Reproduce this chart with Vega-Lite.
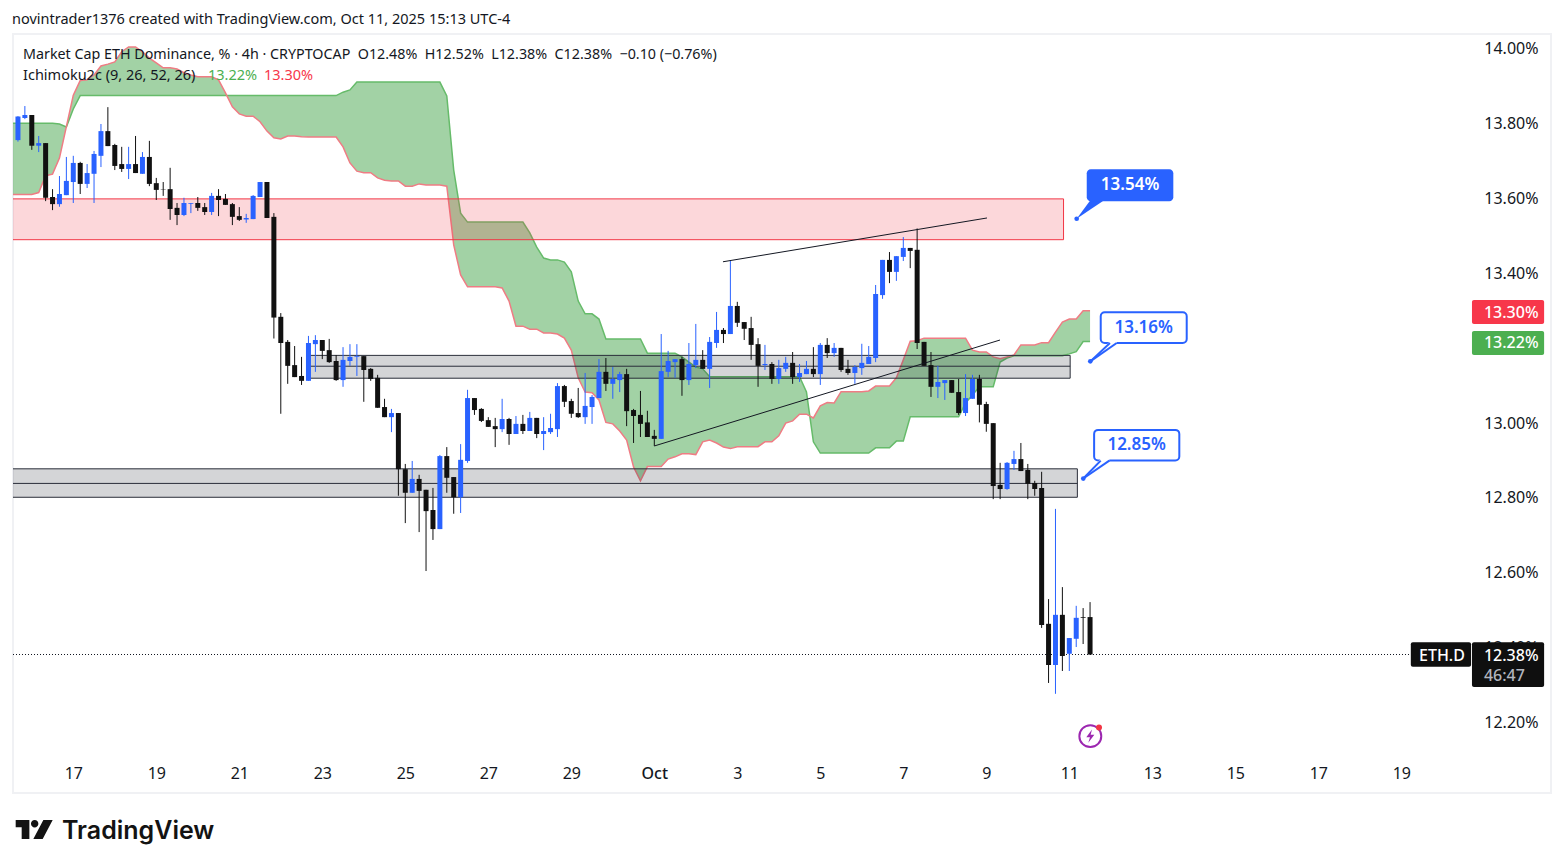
{"$schema":"https://vega.github.io/schema/vega-lite/v6.json","width":1538,"height":759,"autosize":{"type":"none"},"padding":{"left":13,"top":34,"right":13,"bottom":75},"background":"#ffffff","config":{"view":{"stroke":"#f0f1f4","strokeWidth":2},"font":"Noto Sans"},
"datasets":{"candles":[
{"t":"2025-09-15T12:00Z","spanA":13.799,"spanB":13.609},
{"t":"2025-09-15T16:00Z","open":13.754,"high":13.818,"low":13.750,"close":13.817,"spanA":13.799,"spanB":13.609},
{"t":"2025-09-15T20:00Z","open":13.813,"high":13.845,"low":13.810,"close":13.821,"spanA":13.799,"spanB":13.609},
{"t":"2025-09-16T00:00Z","open":13.821,"high":13.821,"low":13.728,"close":13.739,"spanA":13.799,"spanB":13.609},
{"t":"2025-09-16T04:00Z","open":13.739,"high":13.765,"low":13.722,"close":13.746,"spanA":13.799,"spanB":13.614},
{"t":"2025-09-16T08:00Z","open":13.746,"high":13.746,"low":13.591,"close":13.600,"spanA":13.799,"spanB":13.659},
{"t":"2025-09-16T12:00Z","open":13.602,"high":13.623,"low":13.567,"close":13.583,"spanA":13.799,"spanB":13.663},
{"t":"2025-09-16T16:00Z","open":13.583,"high":13.658,"low":13.576,"close":13.610,"spanA":13.797,"spanB":13.706},
{"t":"2025-09-16T20:00Z","open":13.607,"high":13.709,"low":13.607,"close":13.645,"spanA":13.789,"spanB":13.790},
{"t":"2025-09-17T00:00Z","open":13.642,"high":13.712,"low":13.586,"close":13.693,"spanA":13.837,"spanB":13.874},
{"t":"2025-09-17T04:00Z","open":13.693,"high":13.696,"low":13.610,"close":13.637,"spanA":13.873,"spanB":13.913},
{"t":"2025-09-17T08:00Z","open":13.637,"high":13.690,"low":13.626,"close":13.666,"spanA":13.873,"spanB":13.915},
{"t":"2025-09-17T12:00Z","open":13.664,"high":13.725,"low":13.586,"close":13.717,"spanA":13.873,"spanB":13.928},
{"t":"2025-09-17T16:00Z","open":13.712,"high":13.797,"low":13.682,"close":13.778,"spanA":13.873,"spanB":13.952},
{"t":"2025-09-17T20:00Z","open":13.778,"high":13.842,"low":13.738,"close":13.738,"spanA":13.873,"spanB":13.957},
{"t":"2025-09-18T00:00Z","open":13.741,"high":13.744,"low":13.674,"close":13.685,"spanA":13.873,"spanB":13.963},
{"t":"2025-09-18T04:00Z","open":13.690,"high":13.736,"low":13.669,"close":13.677,"spanA":13.873,"spanB":13.990},
{"t":"2025-09-18T08:00Z","open":13.677,"high":13.736,"low":13.650,"close":13.690,"spanA":13.873,"spanB":14.003},
{"t":"2025-09-18T12:00Z","open":13.690,"high":13.765,"low":13.666,"close":13.666,"spanA":13.873,"spanB":14.003},
{"t":"2025-09-18T16:00Z","open":13.664,"high":13.722,"low":13.664,"close":13.709,"spanA":13.873,"spanB":13.990},
{"t":"2025-09-18T20:00Z","open":13.709,"high":13.752,"low":13.631,"close":13.637,"spanA":13.873,"spanB":13.973},
{"t":"2025-09-19T00:00Z","open":13.639,"high":13.653,"low":13.594,"close":13.621,"spanA":13.873,"spanB":13.960},
{"t":"2025-09-19T04:00Z","open":13.623,"high":13.642,"low":13.605,"close":13.622,"spanA":13.873,"spanB":13.947},
{"t":"2025-09-19T08:00Z","open":13.623,"high":13.680,"low":13.541,"close":13.570,"spanA":13.873,"spanB":13.947},
{"t":"2025-09-19T12:00Z","open":13.573,"high":13.586,"low":13.527,"close":13.554,"spanA":13.873,"spanB":13.944},
{"t":"2025-09-19T16:00Z","open":13.554,"high":13.600,"low":13.551,"close":13.586,"spanA":13.873,"spanB":13.934},
{"t":"2025-09-19T20:00Z","open":13.584,"high":13.586,"low":13.559,"close":13.586,"spanA":13.873,"spanB":13.928},
{"t":"2025-09-20T00:00Z","open":13.586,"high":13.602,"low":13.565,"close":13.573,"spanA":13.873,"spanB":13.923},
{"t":"2025-09-20T04:00Z","open":13.575,"high":13.586,"low":13.554,"close":13.562,"spanA":13.873,"spanB":13.923},
{"t":"2025-09-20T08:00Z","open":13.562,"high":13.613,"low":13.554,"close":13.605,"spanA":13.873,"spanB":13.923},
{"t":"2025-09-20T12:00Z","open":13.605,"high":13.623,"low":13.551,"close":13.594,"spanA":13.873,"spanB":13.915},
{"t":"2025-09-20T16:00Z","open":13.597,"high":13.610,"low":13.581,"close":13.581,"spanA":13.873,"spanB":13.880},
{"t":"2025-09-20T20:00Z","open":13.583,"high":13.586,"low":13.527,"close":13.549,"spanA":13.873,"spanB":13.843},
{"t":"2025-09-21T00:00Z","open":13.551,"high":13.575,"low":13.538,"close":13.541,"spanA":13.873,"spanB":13.824},
{"t":"2025-09-21T04:00Z","open":13.542,"high":13.557,"low":13.533,"close":13.546,"spanA":13.873,"spanB":13.818},
{"t":"2025-09-21T08:00Z","open":13.543,"high":13.607,"low":13.543,"close":13.605,"spanA":13.873,"spanB":13.818},
{"t":"2025-09-21T12:00Z","open":13.602,"high":13.642,"low":13.602,"close":13.642,"spanA":13.873,"spanB":13.803},
{"t":"2025-09-21T16:00Z","open":13.642,"high":13.642,"low":13.546,"close":13.546,"spanA":13.873,"spanB":13.778},
{"t":"2025-09-21T20:00Z","open":13.549,"high":13.559,"low":13.224,"close":13.280,"spanA":13.873,"spanB":13.760},
{"t":"2025-09-22T00:00Z","open":13.282,"high":13.292,"low":13.023,"close":13.212,"spanA":13.873,"spanB":13.757},
{"t":"2025-09-22T04:00Z","open":13.215,"high":13.220,"low":13.103,"close":13.151,"spanA":13.873,"spanB":13.765},
{"t":"2025-09-22T08:00Z","open":13.153,"high":13.204,"low":13.121,"close":13.121,"spanA":13.873,"spanB":13.765},
{"t":"2025-09-22T12:00Z","open":13.124,"high":13.175,"low":13.100,"close":13.111,"spanA":13.873,"spanB":13.763},
{"t":"2025-09-22T16:00Z","open":13.111,"high":13.231,"low":13.111,"close":13.212,"spanA":13.873,"spanB":13.762},
{"t":"2025-09-22T20:00Z","open":13.209,"high":13.233,"low":13.135,"close":13.220,"spanA":13.873,"spanB":13.762},
{"t":"2025-09-23T00:00Z","open":13.220,"high":13.220,"low":13.169,"close":13.191,"spanA":13.873,"spanB":13.762},
{"t":"2025-09-23T04:00Z","open":13.193,"high":13.223,"low":13.159,"close":13.161,"spanA":13.873,"spanB":13.762},
{"t":"2025-09-23T08:00Z","open":13.164,"high":13.180,"low":13.111,"close":13.113,"spanA":13.873,"spanB":13.762},
{"t":"2025-09-23T12:00Z","open":13.113,"high":13.201,"low":13.095,"close":13.167,"spanA":13.882,"spanB":13.736},
{"t":"2025-09-23T16:00Z","open":13.164,"high":13.209,"low":13.151,"close":13.175,"spanA":13.888,"spanB":13.693},
{"t":"2025-09-23T20:00Z","open":13.175,"high":13.209,"low":13.124,"close":13.177,"spanA":13.909,"spanB":13.671},
{"t":"2025-09-24T00:00Z","open":13.177,"high":13.177,"low":13.055,"close":13.140,"spanA":13.909,"spanB":13.667},
{"t":"2025-09-24T04:00Z","open":13.143,"high":13.145,"low":13.111,"close":13.116,"spanA":13.909,"spanB":13.667},
{"t":"2025-09-24T08:00Z","open":13.119,"high":13.127,"low":13.039,"close":13.039,"spanA":13.909,"spanB":13.653},
{"t":"2025-09-24T12:00Z","open":13.041,"high":13.063,"low":13.014,"close":13.014,"spanA":13.909,"spanB":13.647},
{"t":"2025-09-24T16:00Z","open":13.014,"high":13.036,"low":12.974,"close":13.025,"spanA":13.909,"spanB":13.645},
{"t":"2025-09-24T20:00Z","open":13.025,"high":13.025,"low":12.804,"close":12.875,"spanA":13.909,"spanB":13.645},
{"t":"2025-09-25T00:00Z","open":12.875,"high":12.889,"low":12.731,"close":12.812,"spanA":13.909,"spanB":13.631},
{"t":"2025-09-25T04:00Z","open":12.812,"high":12.897,"low":12.812,"close":12.849,"spanA":13.909,"spanB":13.631},
{"t":"2025-09-25T08:00Z","open":12.849,"high":12.860,"low":12.707,"close":12.817,"spanA":13.909,"spanB":13.637},
{"t":"2025-09-25T12:00Z","open":12.820,"high":12.820,"low":12.603,"close":12.763,"spanA":13.909,"spanB":13.634},
{"t":"2025-09-25T16:00Z","open":12.766,"high":12.825,"low":12.686,"close":12.715,"spanA":13.909,"spanB":13.634},
{"t":"2025-09-25T20:00Z","open":12.715,"high":12.913,"low":12.715,"close":12.910,"spanA":13.909,"spanB":13.634},
{"t":"2025-09-26T00:00Z","open":12.910,"high":12.934,"low":12.812,"close":12.852,"spanA":13.872,"spanB":13.631},
{"t":"2025-09-26T04:00Z","open":12.854,"high":12.854,"low":12.756,"close":12.800,"spanA":13.674,"spanB":13.474},
{"t":"2025-09-26T08:00Z","open":12.800,"high":12.942,"low":12.758,"close":12.900,"spanA":13.559,"spanB":13.394},
{"t":"2025-09-26T12:00Z","open":12.897,"high":13.087,"low":12.892,"close":13.065,"spanA":13.535,"spanB":13.362},
{"t":"2025-09-26T16:00Z","open":13.065,"high":13.065,"low":13.020,"close":13.033,"spanA":13.535,"spanB":13.362},
{"t":"2025-09-26T20:00Z","open":13.036,"high":13.038,"low":13.001,"close":13.004,"spanA":13.535,"spanB":13.362},
{"t":"2025-09-27T00:00Z","open":13.006,"high":13.014,"low":12.988,"close":12.988,"spanA":13.535,"spanB":13.362},
{"t":"2025-09-27T04:00Z","open":12.990,"high":13.012,"low":12.934,"close":12.982,"spanA":13.535,"spanB":13.362},
{"t":"2025-09-27T08:00Z","open":12.982,"high":13.063,"low":12.974,"close":13.009,"spanA":13.535,"spanB":13.359},
{"t":"2025-09-27T12:00Z","open":13.009,"high":13.012,"low":12.940,"close":12.969,"spanA":13.535,"spanB":13.324},
{"t":"2025-09-27T16:00Z","open":12.969,"high":13.017,"low":12.969,"close":12.996,"spanA":13.535,"spanB":13.257},
{"t":"2025-09-27T20:00Z","open":12.996,"high":13.020,"low":12.969,"close":12.977,"spanA":13.535,"spanB":13.257},
{"t":"2025-09-28T00:00Z","open":12.977,"high":13.028,"low":12.977,"close":13.012,"spanA":13.506,"spanB":13.249},
{"t":"2025-09-28T04:00Z","open":13.012,"high":13.012,"low":12.958,"close":12.969,"spanA":13.468,"spanB":13.249},
{"t":"2025-09-28T08:00Z","open":12.969,"high":13.014,"low":12.926,"close":12.977,"spanA":13.439,"spanB":13.239},
{"t":"2025-09-28T12:00Z","open":12.974,"high":13.023,"low":12.969,"close":12.985,"spanA":13.434,"spanB":13.239},
{"t":"2025-09-28T16:00Z","open":12.982,"high":13.105,"low":12.961,"close":13.097,"spanA":13.434,"spanB":13.236},
{"t":"2025-09-28T20:00Z","open":13.097,"high":13.100,"low":13.041,"close":13.055,"spanA":13.428,"spanB":13.225},
{"t":"2025-09-29T00:00Z","open":13.057,"high":13.063,"low":13.012,"close":13.023,"spanA":13.402,"spanB":13.193},
{"t":"2025-09-29T04:00Z","open":13.025,"high":13.092,"low":13.012,"close":13.014,"spanA":13.324,"spanB":13.119},
{"t":"2025-09-29T08:00Z","open":13.014,"high":13.132,"low":12.996,"close":13.044,"spanA":13.290,"spanB":13.081},
{"t":"2025-09-29T12:00Z","open":13.041,"high":13.073,"low":12.996,"close":13.068,"spanA":13.290,"spanB":13.079},
{"t":"2025-09-29T16:00Z","open":13.065,"high":13.169,"low":13.065,"close":13.135,"spanA":13.276,"spanB":13.060},
{"t":"2025-09-29T20:00Z","open":13.135,"high":13.172,"low":13.084,"close":13.103,"spanA":13.223,"spanB":13.000},
{"t":"2025-09-30T00:00Z","open":13.103,"high":13.148,"low":13.063,"close":13.116,"spanA":13.223,"spanB":12.996},
{"t":"2025-09-30T04:00Z","open":13.113,"high":13.135,"low":13.081,"close":13.129,"spanA":13.223,"spanB":12.977},
{"t":"2025-09-30T08:00Z","open":13.129,"high":13.143,"low":12.990,"close":13.030,"spanA":13.223,"spanB":12.953},
{"t":"2025-09-30T12:00Z","open":13.033,"high":13.036,"low":12.945,"close":13.017,"spanA":13.223,"spanB":12.881},
{"t":"2025-09-30T16:00Z","open":13.020,"high":13.084,"low":12.961,"close":12.996,"spanA":13.223,"spanB":12.844},
{"t":"2025-09-30T20:00Z","open":13.000,"high":13.031,"low":12.961,"close":12.961,"spanA":13.185,"spanB":12.882},
{"t":"2025-10-01T00:00Z","open":12.964,"high":12.980,"low":12.937,"close":12.956,"spanA":13.185,"spanB":12.882},
{"t":"2025-10-01T04:00Z","open":12.956,"high":13.236,"low":12.956,"close":13.137,"spanA":13.185,"spanB":12.882},
{"t":"2025-10-01T08:00Z","open":13.135,"high":13.191,"low":13.121,"close":13.164,"spanA":13.185,"spanB":12.902},
{"t":"2025-10-01T12:00Z","open":13.161,"high":13.169,"low":13.119,"close":13.169,"spanA":13.185,"spanB":12.908},
{"t":"2025-10-01T16:00Z","open":13.169,"high":13.175,"low":13.071,"close":13.113,"spanA":13.175,"spanB":12.916},
{"t":"2025-10-01T20:00Z","open":13.113,"high":13.212,"low":13.100,"close":13.156,"spanA":13.161,"spanB":12.916},
{"t":"2025-10-02T00:00Z","open":13.153,"high":13.263,"low":13.145,"close":13.167,"spanA":13.148,"spanB":12.914},
{"t":"2025-10-02T04:00Z","open":13.167,"high":13.193,"low":13.143,"close":13.143,"spanA":13.143,"spanB":12.948},
{"t":"2025-10-02T08:00Z","open":13.143,"high":13.228,"low":13.092,"close":13.215,"spanA":13.122,"spanB":12.953},
{"t":"2025-10-02T12:00Z","open":13.212,"high":13.295,"low":13.199,"close":13.247,"spanA":13.122,"spanB":12.945},
{"t":"2025-10-02T16:00Z","open":13.247,"high":13.252,"low":13.212,"close":13.236,"spanA":13.122,"spanB":12.934},
{"t":"2025-10-02T20:00Z","open":13.236,"high":13.432,"low":13.236,"close":13.311,"spanA":13.122,"spanB":12.930},
{"t":"2025-10-03T00:00Z","open":13.311,"high":13.322,"low":13.255,"close":13.266,"spanA":13.122,"spanB":12.935},
{"t":"2025-10-03T04:00Z","open":13.268,"high":13.268,"low":13.220,"close":13.250,"spanA":13.122,"spanB":12.935},
{"t":"2025-10-03T08:00Z","open":13.252,"high":13.282,"low":13.167,"close":13.207,"spanA":13.122,"spanB":12.935},
{"t":"2025-10-03T12:00Z","open":13.209,"high":13.225,"low":13.095,"close":13.151,"spanA":13.122,"spanB":12.935},
{"t":"2025-10-03T16:00Z","open":13.153,"high":13.207,"low":13.140,"close":13.156,"spanA":13.122,"spanB":12.948},
{"t":"2025-10-03T20:00Z","open":13.156,"high":13.161,"low":13.103,"close":13.116,"spanA":13.122,"spanB":12.948},
{"t":"2025-10-04T00:00Z","open":13.116,"high":13.167,"low":13.103,"close":13.145,"spanA":13.122,"spanB":12.964},
{"t":"2025-10-04T04:00Z","open":13.143,"high":13.175,"low":13.135,"close":13.159,"spanA":13.122,"spanB":12.998},
{"t":"2025-10-04T08:00Z","open":13.159,"high":13.188,"low":13.103,"close":13.121,"spanA":13.122,"spanB":13.004},
{"t":"2025-10-04T12:00Z","open":13.121,"high":13.156,"low":13.108,"close":13.132,"spanA":13.122,"spanB":13.022},
{"t":"2025-10-04T16:00Z","open":13.129,"high":13.164,"low":13.129,"close":13.143,"spanA":13.081,"spanB":13.022},
{"t":"2025-10-04T20:00Z","open":13.143,"high":13.201,"low":13.121,"close":13.129,"spanA":12.948,"spanB":13.012},
{"t":"2025-10-05T00:00Z","open":13.129,"high":13.212,"low":13.100,"close":13.207,"spanA":12.918,"spanB":13.044},
{"t":"2025-10-05T04:00Z","open":13.207,"high":13.225,"low":13.172,"close":13.185,"spanA":12.918,"spanB":13.053},
{"t":"2025-10-05T08:00Z","open":13.185,"high":13.212,"low":13.175,"close":13.199,"spanA":12.918,"spanB":13.052},
{"t":"2025-10-05T12:00Z","open":13.199,"high":13.199,"low":13.135,"close":13.140,"spanA":12.918,"spanB":13.082},
{"t":"2025-10-05T16:00Z","open":13.143,"high":13.167,"low":13.127,"close":13.132,"spanA":12.918,"spanB":13.082},
{"t":"2025-10-05T20:00Z","open":13.132,"high":13.153,"low":13.103,"close":13.148,"spanA":12.918,"spanB":13.082},
{"t":"2025-10-06T00:00Z","open":13.145,"high":13.210,"low":13.127,"close":13.159,"spanA":12.918,"spanB":13.082},
{"t":"2025-10-06T04:00Z","open":13.156,"high":13.204,"low":13.156,"close":13.175,"spanA":12.918,"spanB":13.084},
{"t":"2025-10-06T08:00Z","open":13.172,"high":13.367,"low":13.161,"close":13.343,"spanA":12.932,"spanB":13.097},
{"t":"2025-10-06T12:00Z","open":13.340,"high":13.434,"low":13.330,"close":13.434,"spanA":12.932,"spanB":13.097},
{"t":"2025-10-06T16:00Z","open":13.434,"high":13.455,"low":13.372,"close":13.402,"spanA":12.932,"spanB":13.097},
{"t":"2025-10-06T20:00Z","open":13.402,"high":13.444,"low":13.378,"close":13.444,"spanA":12.950,"spanB":13.119},
{"t":"2025-10-07T00:00Z","open":13.442,"high":13.495,"low":13.431,"close":13.466,"spanA":12.950,"spanB":13.167},
{"t":"2025-10-07T04:00Z","open":13.466,"high":13.466,"low":13.412,"close":13.458,"spanA":13.015,"spanB":13.217},
{"t":"2025-10-07T08:00Z","open":13.461,"high":13.518,"low":13.196,"close":13.212,"spanA":13.015,"spanB":13.218},
{"t":"2025-10-07T12:00Z","open":13.215,"high":13.215,"low":13.151,"close":13.151,"spanA":13.015,"spanB":13.225},
{"t":"2025-10-07T16:00Z","open":13.153,"high":13.188,"low":13.068,"close":13.095,"spanA":13.015,"spanB":13.225},
{"t":"2025-10-07T20:00Z","open":13.095,"high":13.151,"low":13.065,"close":13.108,"spanA":13.015,"spanB":13.225},
{"t":"2025-10-08T00:00Z","open":13.105,"high":13.113,"low":13.060,"close":13.113,"spanA":13.015,"spanB":13.225},
{"t":"2025-10-08T04:00Z","open":13.113,"high":13.113,"low":13.079,"close":13.079,"spanA":13.015,"spanB":13.225},
{"t":"2025-10-08T08:00Z","open":13.081,"high":13.116,"low":13.020,"close":13.025,"spanA":13.015,"spanB":13.225},
{"t":"2025-10-08T12:00Z","open":13.025,"high":13.129,"low":13.017,"close":13.065,"spanA":13.052,"spanB":13.225},
{"t":"2025-10-08T16:00Z","open":13.063,"high":13.127,"low":13.063,"close":13.116,"spanA":13.073,"spanB":13.193},
{"t":"2025-10-08T20:00Z","open":13.116,"high":13.127,"low":13.000,"close":13.047,"spanA":13.095,"spanB":13.188},
{"t":"2025-10-09T00:00Z","open":13.049,"high":13.055,"low":12.975,"close":12.996,"spanA":13.095,"spanB":13.188},
{"t":"2025-10-09T04:00Z","open":12.998,"high":12.998,"low":12.795,"close":12.830,"spanA":13.095,"spanB":13.175},
{"t":"2025-10-09T08:00Z","open":12.833,"high":12.892,"low":12.795,"close":12.822,"spanA":13.161,"spanB":13.170},
{"t":"2025-10-09T12:00Z","open":12.822,"high":12.894,"low":12.820,"close":12.892,"spanA":13.172,"spanB":13.175},
{"t":"2025-10-09T16:00Z","open":12.889,"high":12.924,"low":12.873,"close":12.902,"spanA":13.178,"spanB":13.180},
{"t":"2025-10-09T20:00Z","open":12.902,"high":12.945,"low":12.870,"close":12.870,"spanA":13.178,"spanB":13.207},
{"t":"2025-10-10T00:00Z","open":12.873,"high":12.889,"low":12.795,"close":12.836,"spanA":13.178,"spanB":13.207},
{"t":"2025-10-10T04:00Z","open":12.838,"high":12.844,"low":12.804,"close":12.822,"spanA":13.178,"spanB":13.207},
{"t":"2025-10-10T08:00Z","open":12.825,"high":12.868,"low":12.451,"close":12.459,"spanA":13.178,"spanB":13.213},
{"t":"2025-10-10T12:00Z","open":12.462,"high":12.528,"low":12.304,"close":12.352,"spanA":13.178,"spanB":13.213},
{"t":"2025-10-10T16:00Z","open":12.352,"high":12.769,"low":12.275,"close":12.486,"spanA":13.178,"spanB":13.241},
{"t":"2025-10-10T20:00Z","open":12.486,"high":12.560,"low":12.336,"close":12.376,"spanA":13.178,"spanB":13.268},
{"t":"2025-10-11T00:00Z","open":12.382,"high":12.424,"low":12.336,"close":12.424,"spanA":13.183,"spanB":13.276},
{"t":"2025-10-11T04:00Z","open":12.422,"high":12.510,"low":12.400,"close":12.478,"spanA":13.189,"spanB":13.276},
{"t":"2025-10-11T08:00Z","open":12.480,"high":12.504,"low":12.408,"close":12.478,"spanA":13.216,"spanB":13.298},
{"t":"2025-10-11T12:00Z","open":12.480,"high":12.520,"low":12.380,"close":12.380,"spanA":13.216,"spanB":13.298}
],
"zones":[
{"zone":"Resistance","t":"2025-09-15T00:00Z","t2":"2025-10-10T20:40Z","v":13.597,"v2":13.488},
{"zone":"Upper support","t":"2025-09-22T15:40Z","t2":"2025-10-11T00:30Z","v":13.179,"v2":13.118,"mid":13.150},
{"zone":"Lower support","t":"2025-09-15T00:00Z","t2":"2025-10-11T04:40Z","v":12.876,"v2":12.800,"mid":12.837}
]},
"encoding":{
"x":{"field":"t","type":"temporal","title":null,"scale":{"type":"utc","nice":false,"padding":0,"domain":[{"year":2025,"month":9,"date":15,"hours":13,"minutes":8,"utc":true},{"year":2025,"month":10,"date":22,"hours":14,"minutes":34,"utc":true}]},
"axis":{"orient":"bottom","offset":-30,"domain":false,"ticks":false,"grid":false,"labelFontSize":16,"labelColor":"#131722","labelPadding":2,"labelBaseline":"top","labelFlush":false,"labelOverlap":false,"labelBound":false,"labelFontWeight":{"expr":"utcdate(datum.value)==1?500:400"},
"labelExpr":"utcdate(datum.value)==1?'Oct':''+utcdate(datum.value)",
"values":[{"year":2025,"month":9,"date":17,"utc":true},{"year":2025,"month":9,"date":19,"utc":true},{"year":2025,"month":9,"date":21,"utc":true},{"year":2025,"month":9,"date":23,"utc":true},{"year":2025,"month":9,"date":25,"utc":true},{"year":2025,"month":9,"date":27,"utc":true},{"year":2025,"month":9,"date":29,"utc":true},{"year":2025,"month":10,"date":1,"utc":true},{"year":2025,"month":10,"date":3,"utc":true},{"year":2025,"month":10,"date":5,"utc":true},{"year":2025,"month":10,"date":7,"utc":true},{"year":2025,"month":10,"date":9,"utc":true},{"year":2025,"month":10,"date":11,"utc":true},{"year":2025,"month":10,"date":13,"utc":true},{"year":2025,"month":10,"date":15,"utc":true},{"year":2025,"month":10,"date":17,"utc":true},{"year":2025,"month":10,"date":19,"utc":true}]}},
"y":{"field":"v","type":"quantitative","title":null,"scale":{"nice":false,"zero":false,"domain":[12.0101,14.0374]},
"axis":{"orient":"right","offset":-13,"domain":false,"ticks":false,"grid":false,"labelFontSize":16,"labelColor":"#131722","labelAlign":"right","labelPadding":0,"labelOffset":0.7,"labelFlush":false,"labelBound":false,"labelOverlap":false,"labelExpr":"format(datum.value,'.2f')+'%'","values":[12.2,12.4,12.6,12.8,13.0,13.2,13.4,13.6,13.8,14.0]}}
},
"layer":[
{"data":{"name":"candles"},"mark":{"type":"area","color":"#46a64b","opacity":0.5,"clip":true},"encoding":{"y":{"field":"spanA","type":"quantitative","title":null},"y2":{"field":"spanB"}}},
{"data":{"name":"candles"},"mark":{"type":"line","color":"#66bb6a","strokeWidth":1.5,"clip":true},"encoding":{"y":{"field":"spanA","type":"quantitative","title":null}}},
{"data":{"name":"candles"},"mark":{"type":"line","color":"#ef7c84","strokeWidth":1.5,"clip":true},"encoding":{"y":{"field":"spanB","type":"quantitative","title":null}}},
{"data":{"name":"zones"},"transform":[{"filter":"datum.zone=='Resistance'"}],"mark":{"type":"rect","fill":"#f23645","fillOpacity":0.2,"stroke":"#f23645","strokeWidth":1,"clip":true},"encoding":{"x2":{"field":"t2"},"y2":{"field":"v2"}}},
{"data":{"name":"zones"},"transform":[{"filter":"datum.zone!='Resistance'"}],"mark":{"type":"rect","fill":"#2a2e39","fillOpacity":0.2,"stroke":"#2a2e39","strokeWidth":1,"clip":true},"encoding":{"x2":{"field":"t2"},"y2":{"field":"v2"}}},
{"data":{"name":"zones"},"transform":[{"filter":"datum.zone!='Resistance'"}],"mark":{"type":"rule","color":"#2a2e39","strokeWidth":1,"clip":true},"encoding":{"x2":{"field":"t2"},"y":{"field":"mid","type":"quantitative","title":null}}},
{"data":{"values":[{"t":"2025-09-15T13:08Z","t2":"2025-10-19T05:30Z","v":12.38}]},"mark":{"type":"rule","color":"#131722","strokeWidth":1,"strokeDash":[1,2]},"encoding":{"x2":{"field":"t2"}}},
{"data":{"name":"candles"},"mark":{"type":"rule","strokeWidth":1,"clip":true},"encoding":{"y":{"field":"low","type":"quantitative","title":null},"y2":{"field":"high"},"color":{"condition":{"test":"datum.close>=datum.open","value":"#2962ff"},"value":"#111111"}}},
{"data":{"name":"candles"},"mark":{"type":"bar","size":5,"clip":true},"encoding":{"y":{"field":"open","type":"quantitative","title":null},"y2":{"field":"close"},"color":{"condition":{"test":"datum.close>=datum.open","value":"#2962ff"},"value":"#111111"}}},
{"data":{"values":[{"line":"upper","t":"2025-10-02T15:43Z","v":13.429},{"line":"upper","t":"2025-10-09T00:24Z","v":13.546},{"line":"lower","t":"2025-10-01T00:00Z","v":12.937},{"line":"lower","t":"2025-10-09T07:55Z","v":13.220}]},"mark":{"type":"line","color":"#131722","strokeWidth":1},"encoding":{"detail":{"field":"line"}}},
{"data":{"values":[{"t":"2025-10-11T04:16Z","v":13.544,"v2":13.544},{"t":"2025-10-11T12:23Z","v":13.595,"v2":13.569},{"t":"2025-10-11T19:19Z","v":13.595,"v2":13.591}]},"mark":{"type":"area","color":"#2962ff"},"encoding":{"y2":{"field":"v2"}}},
{"data":{"values":[{"label":"13.54%","t":"2025-10-11T10:05Z","t2":"2025-10-13T12:09Z","v":13.676,"v2":13.591}]},"mark":{"type":"rect","fill":"#2962ff","cornerRadius":4},"encoding":{"x2":{"field":"t2"},"y2":{"field":"v2"}}},
{"data":{"values":[{"label":"13.16%","t":"2025-10-11T18:10Z","t2":"2025-10-13T19:54Z","v":13.294,"v2":13.212},{"label":"12.85%","t":"2025-10-11T14:21Z","t2":"2025-10-13T15:37Z","v":12.980,"v2":12.898}]},"mark":{"type":"rect","fill":"#ffffff","stroke":"#2962ff","strokeWidth":2,"cornerRadius":4},"encoding":{"x2":{"field":"t2"},"y2":{"field":"v2"}}},
{"data":{"values":[{"label":"13.16%","t":"2025-10-11T12:09Z","v":13.163,"v2":13.163},{"label":"13.16%","t":"2025-10-11T23:31Z","v":13.217,"v2":13.200},{"label":"13.16%","t":"2025-10-12T03:24Z","v":13.217,"v2":13.212},{"label":"12.85%","t":"2025-10-11T08:05Z","v":12.850,"v2":12.850},{"label":"12.85%","t":"2025-10-11T18:10Z","v":12.903,"v2":12.882},{"label":"12.85%","t":"2025-10-11T23:08Z","v":12.903,"v2":12.898}]},"mark":{"type":"area","color":"#ffffff"},"encoding":{"y2":{"field":"v2"},"detail":{"field":"label"}}},
{"data":{"values":[{"edge":"a","t":"2025-10-11T12:09Z","v":13.163},{"edge":"a","t":"2025-10-11T23:31Z","v":13.212},{"edge":"b","t":"2025-10-11T12:09Z","v":13.163},{"edge":"b","t":"2025-10-12T03:24Z","v":13.212},{"edge":"c","t":"2025-10-11T08:05Z","v":12.850},{"edge":"c","t":"2025-10-11T18:10Z","v":12.898},{"edge":"d","t":"2025-10-11T08:05Z","v":12.850},{"edge":"d","t":"2025-10-11T23:08Z","v":12.898}]},"mark":{"type":"line","color":"#2962ff","strokeWidth":2},"encoding":{"detail":{"field":"edge"}}},
{"data":{"values":[{"t":"2025-10-11T04:16Z","v":13.544},{"t":"2025-10-11T12:09Z","v":13.163},{"t":"2025-10-11T08:05Z","v":12.850}]},"mark":{"type":"point","filled":true,"color":"#2962ff","size":22,"opacity":1}},
{"data":{"values":[{"label":"13.54%","t":"2025-10-12T11:07Z","v":13.633}]},"mark":{"type":"text","color":"#ffffff","fontSize":17,"fontWeight":600,"align":"center","baseline":"middle"},"encoding":{"text":{"field":"label"}}},
{"data":{"values":[{"label":"13.16%","t":"2025-10-12T19:02Z","v":13.253},{"label":"12.85%","t":"2025-10-12T14:57Z","v":12.939}]},"mark":{"type":"text","color":"#2962ff","fontSize":17,"fontWeight":600,"align":"center","baseline":"middle"},"encoding":{"text":{"field":"label"}}},
{"data":{"values":[{"tag":"Span B","t":"2025-10-20T16:52Z","t2":"2025-10-22T10:35Z","v":13.327,"v2":13.263},{"tag":"Span A","t":"2025-10-20T16:52Z","t2":"2025-10-22T10:35Z","v":13.244,"v2":13.180},{"tag":"Price","t":"2025-10-20T16:52Z","t2":"2025-10-22T10:35Z","v":12.413,"v2":12.293},{"tag":"Symbol","t":"2025-10-19T05:30Z","t2":"2025-10-20T16:20Z","v":12.413,"v2":12.347}]},"mark":{"type":"rect","cornerRadius":2},"encoding":{"x2":{"field":"t2"},"y2":{"field":"v2"},"color":{"field":"tag","type":"nominal","legend":null,"scale":{"domain":["Span B","Span A","Price","Symbol"],"range":["#f7374a","#4caf50","#0f0f0f","#0f0f0f"]}}}},
{"data":{"values":[{"label":"13.30%","t":"2025-10-20T23:48Z","v":13.293},{"label":"13.22%","t":"2025-10-20T23:48Z","v":13.213},{"label":"12.38%","t":"2025-10-20T23:48Z","v":12.377}]},"mark":{"type":"text","color":"#ffffff","fontSize":16,"fontWeight":500,"align":"left","baseline":"middle"},"encoding":{"text":{"field":"label"}}},
{"data":{"values":[{"label":"ETH.D","t":"2025-10-19T23:30Z","v":12.377}]},"mark":{"type":"text","color":"#ffffff","fontSize":16,"fontWeight":500,"align":"center","baseline":"middle"},"encoding":{"text":{"field":"label"}}},
{"data":{"values":[{"label":"46:47","t":"2025-10-20T23:48Z","v":12.322}]},"mark":{"type":"text","color":"#b2b5be","fontSize":16,"fontWeight":500,"align":"left","baseline":"middle"},"encoding":{"text":{"field":"label"}}},
{"data":{"values":[{"label":"novintrader1376 created with TradingView.com, Oct 11, 2025 15:13 UTC-4","t":"2025-09-15T12:33Z","v":14.075},{"label":"Ichimoku2c (9, 26, 52, 26)","t":"2025-09-15T18:55Z","v":13.925}]},"mark":{"type":"text","color":"#131722","fontSize":14.5,"align":"left","baseline":"middle"},"encoding":{"text":{"field":"label"}}},
{"data":{"values":[{"label":"Market Cap ETH Dominance, % · 4h · CRYPTOCAP\u00a0\u00a0O12.48%\u00a0\u00a0H12.52%\u00a0\u00a0L12.38%\u00a0\u00a0C12.38%\u00a0\u00a0−0.10 (−0.76%)","t":"2025-09-15T18:55Z","v":13.981}]},"mark":{"type":"text","color":"#131722","fontSize":14.3,"align":"left","baseline":"middle"},"encoding":{"text":{"field":"label"}}},
{"data":{"values":[{"label":"13.22%","t":"2025-09-20T05:54Z","v":13.925}]},"mark":{"type":"text","color":"#4caf50","fontSize":14.5,"align":"left","baseline":"middle"},"encoding":{"text":{"field":"label"}}},
{"data":{"values":[{"label":"13.30%","t":"2025-09-21T14:17Z","v":13.925}]},"mark":{"type":"text","color":"#f7374a","fontSize":14.5,"align":"left","baseline":"middle"},"encoding":{"text":{"field":"label"}}},
{"data":{"values":[{"label":"TradingView","t":"2025-09-16T17:28Z","v":11.909}]},"mark":{"type":"text","color":"#131313","fontSize":25,"fontWeight":600,"font":"Inter","align":"left","baseline":"middle"},"encoding":{"text":{"field":"label"}}},
{"data":{"values":[{"t":"2025-09-16T01:23Z","v":11.9126}]},"mark":{"type":"point","filled":true,"color":"#131313","opacity":1,"size":1369,"shape":"M-1,-.514H-.26V.514H-.676V-.117H-1Z M.495,-.514H1L.46,.514H-.045Z M-.173,-.315a.2,.2 0 1,0 .4,0a.2,.2 0 1,0 -.4,0Z"}},
{"data":{"values":[{"t":"2025-10-11T12:09Z","v":12.162}]},"mark":{"type":"point","filled":false,"stroke":"#9c27b0","strokeWidth":2,"opacity":1,"size":480,"shape":"circle"}},
{"data":{"values":[{"t":"2025-10-11T12:09Z","v":12.162}]},"mark":{"type":"point","filled":true,"color":"#9c27b0","opacity":1,"size":180,"shape":"M.25,-1L-.6,.15H-.05L-.3,1L.6,-.2H.05Z"}},
{"data":{"values":[{"t":"2025-10-11T17:11Z","v":12.185}]},"mark":{"type":"point","filled":true,"color":"#f23645","opacity":1,"size":36,"shape":"circle"}}
]}
